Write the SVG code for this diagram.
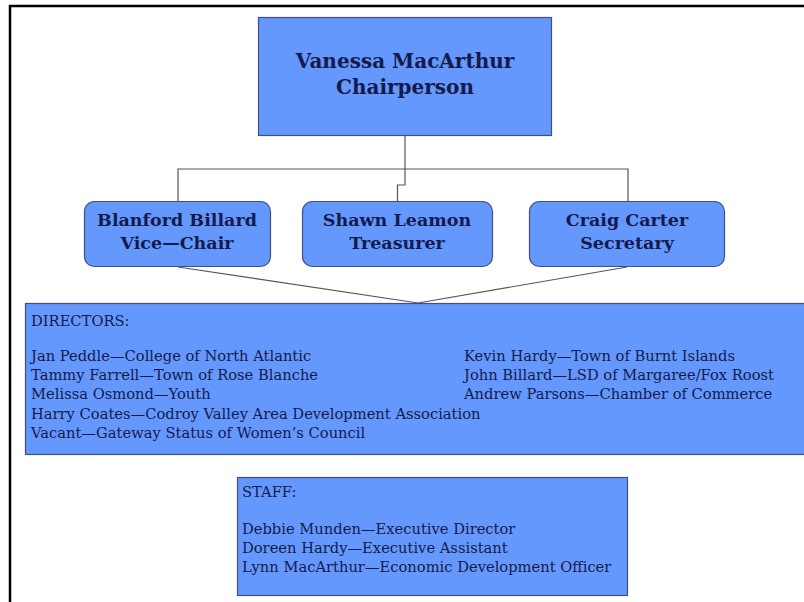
<svg xmlns="http://www.w3.org/2000/svg" width="804" height="602" viewBox="0 0 804 602">
<style>
.box{fill:#6598fc;stroke:#3f4f82;stroke-width:1.2}
.t{font-family:"DejaVu Serif","Liberation Serif",serif;fill:#141a4c}
.h{font-weight:bold;text-anchor:middle}
.l{font-size:14.7px}
.c{fill:none;stroke:#555;stroke-width:1.2}
</style>
<rect width="804" height="602" fill="#fff"/>
<path d="M10,602 V6 H804" fill="none" stroke="#000" stroke-width="2.5"/>
<g id="connectors">
<path class="c" d="M405,136 V185 H397.5 V201"/>
<path class="c" d="M178,201 V169 H628 V201"/>
<path class="c" d="M178,267 L418,303 L627,267"/>
</g>
<g id="chair">
<rect class="box" x="258.5" y="17.5" width="293" height="118"/>
<text class="t h" x="405" y="68" font-size="20">Vanessa MacArthur</text>
<text class="t h" x="405" y="94" font-size="20">Chairperson</text>
</g>
<g id="vicechair">
<rect class="box" x="84.5" y="201.5" width="186" height="65" rx="10"/>
<text class="t h" x="177" y="226" font-size="17.5">Blanford Billard</text>
<text class="t h" x="177" y="249" font-size="17.5">Vice—Chair</text>
</g>
<g id="treasurer">
<rect class="box" x="302.5" y="201.5" width="190" height="65" rx="10"/>
<text class="t h" x="397" y="226" font-size="17.5">Shawn Leamon</text>
<text class="t h" x="397" y="249" font-size="17.5">Treasurer</text>
</g>
<g id="secretary">
<rect class="box" x="529.5" y="201.5" width="195" height="65" rx="10"/>
<text class="t h" x="627" y="226" font-size="17.5">Craig Carter</text>
<text class="t h" x="627" y="249" font-size="17.5">Secretary</text>
</g>
<g id="directors">
<rect class="box" x="25.5" y="303.5" width="790" height="151"/>
<text class="t l" x="31" y="326">DIRECTORS:</text>
<text class="t l" x="31" y="361">Jan Peddle—College of North Atlantic</text>
<text class="t l" x="31" y="380">Tammy Farrell—Town of Rose Blanche</text>
<text class="t l" x="31" y="399">Melissa Osmond—Youth</text>
<text class="t l" x="31" y="419">Harry Coates—Codroy Valley Area Development Association</text>
<text class="t l" x="31" y="438">Vacant—Gateway Status of Women’s Council</text>
<text class="t l" x="464" y="361">Kevin Hardy—Town of Burnt Islands</text>
<text class="t l" x="464" y="380">John Billard—LSD of Margaree/Fox Roost</text>
<text class="t l" x="464" y="399">Andrew Parsons—Chamber of Commerce</text>
</g>
<g id="staff">
<rect class="box" x="237.5" y="477.5" width="390" height="118"/>
<text class="t l" x="242" y="497">STAFF:</text>
<text class="t l" x="242" y="534">Debbie Munden—Executive Director</text>
<text class="t l" x="242" y="553">Doreen Hardy—Executive Assistant</text>
<text class="t l" x="242" y="572">Lynn MacArthur—Economic Development Officer</text>
</g>
</svg>
